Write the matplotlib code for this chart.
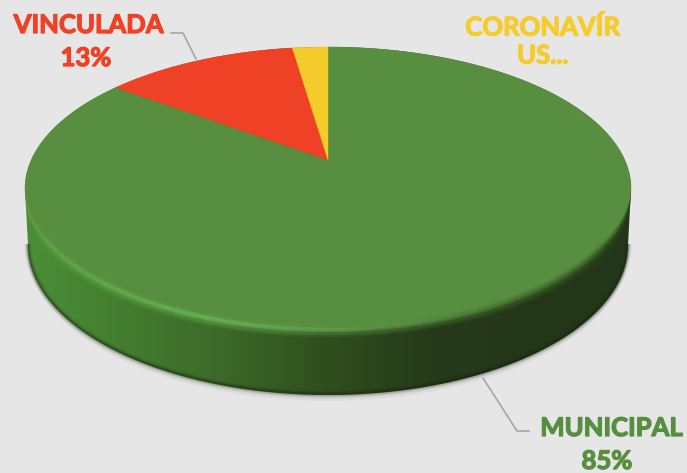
import numpy as np
import matplotlib
matplotlib.use("Agg")
import matplotlib.pyplot as plt
import matplotlib.patheffects as pe
from matplotlib.collections import LineCollection
from matplotlib.colors import LinearSegmentedColormap
from matplotlib.patches import Polygon

# dados
labels = ["MUNICIPAL", "VINCULADA", "CORONAVÍR\nUS..."]
values = [85.2, 12.5, 2.3]
pct_text = ["85%", "13%", ""]
colors = ["#578E3F", "#EF4126", "#F5CC2B"]

BG = "#E6E6E6"
plt.rcParams["font.family"] = ["Lato", "DejaVu Sans"]

# geometria do disco em pixels (perspectiva)
cx, cy = 328, 160
c = 0.2014
a = 135.8
d = 296.8
# elipse de baixo
bx, by, brx, bry = 328, 245, 300, 150


def project(theta):
    # theta em radianos, 0 = topo, sentido horario
    u = np.sin(theta)
    v = np.cos(theta)
    w = 1 + c * v
    return cx + d * u / w, cy - a * v / w


fig = plt.figure(figsize=(6.87, 4.73), dpi=100, facecolor=BG)
ax = fig.add_axes([0, 0, 1, 1])
ax.set_xlim(0, 687)
ax.set_ylim(473, 0)
ax.axis("off")

t = np.linspace(0, 2 * np.pi, 721)
top_x, top_y = project(t)

# sombra
t2 = np.linspace(np.pi, 2 * np.pi, 361)
for off, al in [(6, 0.25), (4, 0.4), (2, 0.6)]:
    ax.fill(bx + brx * np.cos(t2), by + off - bry * np.sin(t2), color="#C4C4C4", alpha=al, lw=0, zorder=1)

# lateral com gradiente
low_x = bx + brx * np.cos(t2)
low_y = by - bry * np.sin(t2)
arc = np.linspace(0, np.pi, 181)
hull = np.vstack([
    np.column_stack([low_x, low_y]),
    [[631, 189]],
    np.column_stack([cx + 303 * np.cos(arc), 189 - 142 * np.sin(arc)]),
])
wall_cmap = LinearSegmentedColormap.from_list("wall", [
    (0.00, "#4C8E37"), (0.10, "#468432"), (0.30, "#3E6C2A"), (0.50, "#2F4E1E"),
    (0.68, "#26391A"), (0.90, "#233718"), (1.00, "#23361A"),
])
grad = np.linspace(0, 1, 512).reshape(1, -1)
im = ax.imshow(grad, cmap=wall_cmap, extent=[25, 631, 473, 0], aspect="auto", zorder=2)
clip = Polygon(hull, closed=True, transform=ax.transData)
im.set_clip_path(clip)
ax.set_xlim(0, 687)
ax.set_ylim(473, 0)

# borda escura embaixo
for lw, al in [(5, 0.10), (3, 0.18), (1.5, 0.3)]:
    ax.plot(low_x, low_y - 1, color="#16240E", lw=lw, alpha=al, zorder=3, solid_capstyle="butt")

# topo: fatias a partir dos valores
start = 0.0
for val, col in zip(values, colors):
    ang = np.linspace(start, start + val / sum(values) * 2 * np.pi, 300)
    px, py = project(ang)
    ax.fill(np.r_[cx, px], np.r_[cy, py], color=col, lw=0.3, ec=col, zorder=4)
    start = ang[-1]

# chanfro
mask = top_y > 192
bev_x = top_x[mask]
bev_y = top_y[mask]
order = np.argsort(bev_x)
bev_x, bev_y = bev_x[order], bev_y[order]
pts = np.column_stack([bev_x, bev_y]).reshape(-1, 1, 2)
segs = np.concatenate([pts[:-1], pts[1:]], axis=1)
bev_cmap = LinearSegmentedColormap.from_list("bev", [
    (0.00, "#5FA647"), (0.30, "#6CB958"), (0.50, "#629F4C"), (0.72, "#4C7D38"), (1.00, "#30501F"),
])
seg_col = bev_cmap((bev_x[:-1] - 25) / 606)
# afina nas pontas para nao formar bolinhas
taper = np.clip((bev_y[:-1] - 192) / 60, 0, 1)
for lw, al, dy in [(9, 0.14, 1), (6, 0.28, 1), (3, 0.65, 0)]:
    lc = LineCollection(segs + [0, dy], colors=seg_col, linewidths=lw * taper, alpha=al, zorder=5, capstyle="butt")
    ax.add_collection(lc)

# linhas de chamada
line_kw = dict(color="#A6A6A6", lw=1.2, zorder=6)
ax.plot([171, 183, 196], [33, 33, 59], **line_kw)
ax.plot([483, 517, 529], [378, 431, 431], **line_kw)

# textos
txt_kw = dict(ha="center", va="center", fontsize=18.5, fontweight="bold", zorder=7)
def put(x, y, s, col, **kw):
    tx = ax.text(x, y, s, color=col, **txt_kw, **kw)
    tx.set_path_effects([pe.withStroke(linewidth=0.9, foreground=col)])

put(89, 25, labels[1], colors[1])
put(86, 58, pct_text[1], colors[1])
put(543, 41, labels[2], colors[2], linespacing=1.2)
put(612, 428, labels[0], colors[0])
put(607, 461, pct_text[0], colors[0])

fig.savefig("out.png", dpi=100, facecolor=BG)
